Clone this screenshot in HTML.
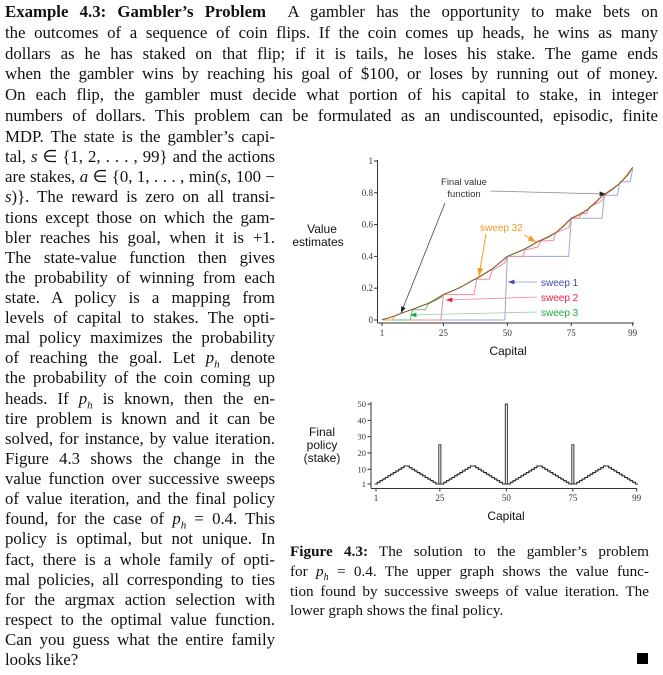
<!DOCTYPE html>
<html><head><meta charset="utf-8">
<style>
body{margin:0;background:#fff;width:663px;height:675px;position:relative;overflow:hidden;font-family:"Liberation Serif",serif;color:#111}
.ln{position:absolute;left:5px;font-size:16.8px;height:20px;line-height:20px;white-space:nowrap;text-align:justify;text-align-last:justify;overflow:visible}
.full{width:653px}
.col{width:270px}
.last{text-align-last:left}
.cap{position:absolute;left:290px;width:359px;font-size:15.2px;height:20px;line-height:20px;white-space:nowrap;text-align:justify;text-align-last:justify}
i{font-style:italic}
sub{line-height:0}
svg{position:absolute;left:0;top:0}
</style></head><body>
<div>
<div class="ln full" style="top:2px"><b>Example 4.3: Gambler’s Problem</b>&nbsp; A gambler has the opportunity to make bets on</div>
<div class="ln full" style="top:22.8px">the outcomes of a sequence of coin flips. If the coin comes up heads, he wins as many</div>
<div class="ln full" style="top:43.6px">dollars as he has staked on that flip; if it is tails, he loses his stake. The game ends</div>
<div class="ln full" style="top:64.4px">when the gambler wins by reaching his goal of $100, or loses by running out of money.</div>
<div class="ln full" style="top:85.2px">On each flip, the gambler must decide what portion of his capital to stake, in integer</div>
<div class="ln full" style="top:106px">numbers of dollars. This problem can be formulated as an undiscounted, episodic, finite</div>
<div class="ln col" style="top:127px">MDP. The state is the gambler’s capi-</div>
<div class="ln col" style="top:147.1px">tal, <i>s</i> ∈ {1, 2, . . . , 99} and the actions</div>
<div class="ln col" style="top:167.2px">are stakes, <i>a</i> ∈ {0, 1, . . . , min(<i>s</i>, 100 −</div>
<div class="ln col" style="top:187.3px"><i>s</i>)}. The reward is zero on all transi-</div>
<div class="ln col" style="top:207.5px">tions except those on which the gam-</div>
<div class="ln col" style="top:227.6px">bler reaches his goal, when it is +1.</div>
<div class="ln col" style="top:247.7px">The state-value function then gives</div>
<div class="ln col" style="top:267.8px">the probability of winning from each</div>
<div class="ln col" style="top:288px">state. A policy is a mapping from</div>
<div class="ln col" style="top:308.1px">levels of capital to stakes. The opti-</div>
<div class="ln col" style="top:328.2px">mal policy maximizes the probability</div>
<div class="ln col" style="top:348.3px">of reaching the goal. Let <i>p<sub style="font-size:11px">h</sub></i> denote</div>
<div class="ln col" style="top:368.4px">the probability of the coin coming up</div>
<div class="ln col" style="top:388.6px">heads. If <i>p<sub style="font-size:11px">h</sub></i> is known, then the en-</div>
<div class="ln col" style="top:408.7px">tire problem is known and it can be</div>
<div class="ln col" style="top:428.8px">solved, for instance, by value iteration.</div>
<div class="ln col" style="top:448.9px">Figure 4.3 shows the change in the</div>
<div class="ln col" style="top:469px">value function over successive sweeps</div>
<div class="ln col" style="top:489.2px">of value iteration, and the final policy</div>
<div class="ln col" style="top:509.3px">found, for the case of <i>p<sub style="font-size:11px">h</sub></i> = 0.4. This</div>
<div class="ln col" style="top:529.4px">policy is optimal, but not unique. In</div>
<div class="ln col" style="top:549.5px">fact, there is a whole family of opti-</div>
<div class="ln col" style="top:569.6px">mal policies, all corresponding to ties</div>
<div class="ln col" style="top:589.8px">for the argmax action selection with</div>
<div class="ln col" style="top:609.9px">respect to the optimal value function.</div>
<div class="ln col" style="top:630px">Can you guess what the entire family</div>
<div class="ln col last" style="top:650.1px">looks like?</div>
</div>
<div>
<div class="cap" style="top:542px"><b>Figure 4.3:</b> The solution to the gambler’s problem</div>
<div class="cap" style="top:562px">for <i>p<sub style="font-size:10px">h</sub></i> = 0.4. The upper graph shows the value func-</div>
<div class="cap" style="top:582px">tion found by successive sweeps of value iteration. The</div>
<div class="cap" style="top:601px;text-align-last:left">lower graph shows the final policy.</div>
</div>
<div style="position:absolute;left:637px;top:653px;width:11px;height:11px;background:#000"></div>

<svg id="chart" width="663" height="675">
<defs>
<marker id="ak" markerWidth="8" markerHeight="6" refX="8" refY="3" orient="auto"><path d="M0,0L8,3L0,6z" fill="#222"/></marker>
<marker id="ao" markerWidth="8" markerHeight="6" refX="8" refY="3" orient="auto"><path d="M0,0L8,3L0,6z" fill="#f39c25"/></marker>
<marker id="ab" markerWidth="8" markerHeight="6" refX="8" refY="3" orient="auto"><path d="M0,0L8,3L0,6z" fill="#3b4db0"/></marker>
<marker id="ar" markerWidth="8" markerHeight="6" refX="8" refY="3" orient="auto"><path d="M0,0L8,3L0,6z" fill="#e8213f"/></marker>
<marker id="ag" markerWidth="8" markerHeight="6" refX="8" refY="3" orient="auto"><path d="M0,0L8,3L0,6z" fill="#1faa3c"/></marker>
</defs>
<g id="upper"></g><g id="lower"></g>
</svg>
<script>
const valueTicks=[0,0.2,0.4,0.6,0.8,1];
const valueTickLabels=["0","0.2","0.4","0.6","0.8","1"];
const capitalTicks=[1,25,50,75,99];
const finalCaps=[1,3,6,9,12,13,16,19,22,25,28,31,34,37,38,41,44,47,50,53,56,59,62,63,66,69,72,75,78,81,84,87,88,91,94,97,99];
const finalVals=[0.003,0.01,0.026,0.045,0.062,0.066,0.086,0.104,0.13,0.16,0.18,0.2,0.227,0.254,0.26,0.29,0.32,0.36,0.4,0.42,0.44,0.465,0.494,0.5,0.52,0.55,0.59,0.64,0.66,0.69,0.73,0.78,0.79,0.82,0.86,0.91,0.96];
const sweep1Caps=[1,49,50,74,75,87,88,93,94,98,99];
const sweep1Vals=[0,0,0.4,0.4,0.64,0.64,0.784,0.784,0.87,0.87,0.95];
const sweep2Caps=[1,24,25,37,38,43,44,49,50,56,57,62,63,68,69,74,75,78,79,81,82,87,88,94,99];
const sweep2Vals=[0,0,0.16,0.16,0.256,0.256,0.31,0.36,0.4,0.4,0.44,0.46,0.496,0.5,0.55,0.58,0.64,0.64,0.67,0.67,0.71,0.75,0.784,0.86,0.96];
const sweep3Caps=[1,12,13,18,19,24,25,31,37,44,50,56,62,69,75,81,87,94,99];
const sweep3Vals=[0,0,0.064,0.064,0.1,0.14,0.16,0.2,0.254,0.32,0.4,0.44,0.494,0.55,0.64,0.69,0.78,0.86,0.96];
const sweep32Caps=[1,5,6,9,12,16,19,25,31,37,44,50,56,62,69,75,81,87,94,99];
const sweep32Vals=[0,0,0.026,0.045,0.062,0.086,0.104,0.16,0.2,0.254,0.32,0.4,0.44,0.494,0.55,0.64,0.69,0.78,0.86,0.96];
const policyTicks=[1,10,20,30,40,50];
const policyStakes=[1,2,3,4,5,6,7,8,9,10,11,12,12,11,10,9,8,7,6,5,4,3,2,1,25,1,2,3,4,5,6,7,8,9,10,11,12,12,11,10,9,8,7,6,5,4,3,2,1,50,1,2,3,4,5,6,7,8,9,10,11,12,12,11,10,9,8,7,6,5,4,3,2,1,25,1,2,3,4,5,6,7,8,9,10,11,12,12,11,10,9,8,7,6,5,4,3,2,1];

const NS="http://www.w3.org/2000/svg";
function mk(p,tag,attrs,txt){const e=document.createElementNS(NS,tag);for(const k in attrs)e.setAttribute(k,attrs[k]);if(txt!==undefined)e.textContent=txt;p.appendChild(e);return e;}
const ux=c=>382+(c-1)*2.558, uy=v=>320-v*159;
const lx=c=>376+(c-1)*2.66, ly=v=>485.6-v*1.63;
const U=document.getElementById('upper'), L=document.getElementById('lower');
const serif='"Liberation Serif",serif', sans='"Liberation Sans",sans-serif';

let a=mk(U,'line',{x1:377.5,y1:160,x2:377.5,y2:323,stroke:'#333','stroke-width':1});

a=mk(U,'line',{x1:377.5,y1:323,x2:634,y2:323,stroke:'#333','stroke-width':1});

valueTicks.forEach((v,i)=>{mk(U,'line',{x1:374,x2:377.5,y1:uy(v),y2:uy(v),stroke:'#333'});
 const t=mk(U,'text',{x:373,y:uy(v)+3,'text-anchor':'end','font-size':9,'font-family':serif,fill:'#333'},valueTickLabels[i]);
 });
capitalTicks.forEach(c=>{mk(U,'line',{x1:ux(c),x2:ux(c),y1:323,y2:326,stroke:'#333'});
 const t=mk(U,'text',{x:ux(c),y:336,'text-anchor':'middle','font-size':9,'font-family':serif,fill:'#333'},String(c));
 });
function line(g,caps,vals,col,name,w){const pts=caps.map((c,i)=>ux(c).toFixed(1)+','+uy(vals[i]).toFixed(1)).join(' ');
 const p=mk(g,'polyline',{points:pts,fill:'none',stroke:col,'stroke-width':w||1});
 }
line(U,sweep1Caps,sweep1Vals,'#9aa6dc','sweep-1-line');
line(U,sweep2Caps,sweep2Vals,'#f08a98','sweep-2-line');
line(U,sweep3Caps,sweep3Vals,'#62c070','sweep-3-line');
line(U,sweep32Caps,sweep32Vals,'#f5a83a','sweep-32-line');
line(U,finalCaps,finalVals,'#7a5a40','final-value-line',1);
function txt(g,x,y,s,fs,col,name,anchor){const t=mk(g,'text',{x:x,y:y,'font-size':fs,'font-family':sans,fill:col,'text-anchor':anchor||'start'},s);
 return t;}
txt(U,464,185,'Final value',9.5,'#333','final-value-label','middle');
txt(U,464,197,'function',9.5,'#333','final-value-label-2','middle');
mk(U,'line',{x1:445,y1:203,x2:401,y2:313,stroke:'#444','stroke-width':0.8,'marker-end':'url(#ak)'});
mk(U,'line',{x1:490,y1:191,x2:606,y2:194,stroke:'#888','stroke-width':0.8,'marker-end':'url(#ak)'});
txt(U,480,231,'sweep 32',10,'#f39c25','sweep-32-label');
mk(U,'line',{x1:486,y1:234,x2:479,y2:276,stroke:'#f39c25','stroke-width':1,'marker-end':'url(#ao)'});
mk(U,'line',{x1:524,y1:235,x2:536,y2:242,stroke:'#f39c25','stroke-width':1,'marker-end':'url(#ao)'});
txt(U,541,286,'sweep 1',10,'#3b4db0','sweep-1-label');
mk(U,'line',{x1:537,y1:282,x2:508,y2:282,stroke:'#8896d0','stroke-width':0.8,'marker-end':'url(#ab)'});
txt(U,541,301,'sweep 2',10,'#e8213f','sweep-2-label');
mk(U,'line',{x1:537,y1:297,x2:446,y2:300,stroke:'#f08a98','stroke-width':0.8,'marker-end':'url(#ar)'});
txt(U,541,316,'sweep 3',10,'#1faa3c','sweep-3-label');
mk(U,'line',{x1:537,y1:312,x2:410,y2:315,stroke:'#8fd09a','stroke-width':0.8,'marker-end':'url(#ag)'});
txt(U,322,233,'Value',12,'#111','value-y-title','middle');
txt(U,318,246,'estimates',12,'#111','value-y-title-2','middle');
txt(U,508,355,'Capital',12,'#111','value-x-title','middle');

a=mk(L,'line',{x1:371,y1:402,x2:371,y2:488.5,stroke:'#333'});

a=mk(L,'line',{x1:371,y1:488.5,x2:637,y2:488.5,stroke:'#333'});

policyTicks.forEach(v=>{mk(L,'line',{x1:367.5,x2:371,y1:ly(v),y2:ly(v),stroke:'#333'});
 const t=mk(L,'text',{x:366,y:ly(v)+3,'text-anchor':'end','font-size':8.5,'font-family':serif,fill:'#333'},String(v));
 });
capitalTicks.forEach(c=>{mk(L,'line',{x1:lx(c),x2:lx(c),y1:488.5,y2:491.5,stroke:'#333'});
 const t=mk(L,'text',{x:lx(c),y:501,'text-anchor':'middle','font-size':9,'font-family':serif,fill:'#333'},String(c));
 });
let d='';
policyStakes.forEach((s,i)=>{const c=i+1;const x0=lx(c)-1.33,x1=lx(c)+1.33;
 if(s>20){const r=mk(L,'rect',{x:x0+0.3,y:ly(s),width:x1-x0-0.6,height:ly(1)-ly(s),fill:'none',stroke:'#333','stroke-width':1});
  
  d+=(d?'L':'M')+x0.toFixed(1)+','+ly(1).toFixed(1)+'L'+x1.toFixed(1)+','+ly(1).toFixed(1);}
 else d+=(d?'L':'M')+x0.toFixed(1)+','+ly(s).toFixed(1)+'L'+x1.toFixed(1)+','+ly(s).toFixed(1);});
const pp=mk(L,'path',{d:d,fill:'none',stroke:'#222','stroke-width':1.1});

txt(L,322,436,'Final',12,'#111','policy-y-title','middle');
txt(L,322,449,'policy',12,'#111','policy-y-title-2','middle');
txt(L,322,462,'(stake)',12,'#111','policy-y-title-3','middle');
txt(L,506,520,'Capital',12,'#111','policy-x-title','middle');
</script>
</body></html>
